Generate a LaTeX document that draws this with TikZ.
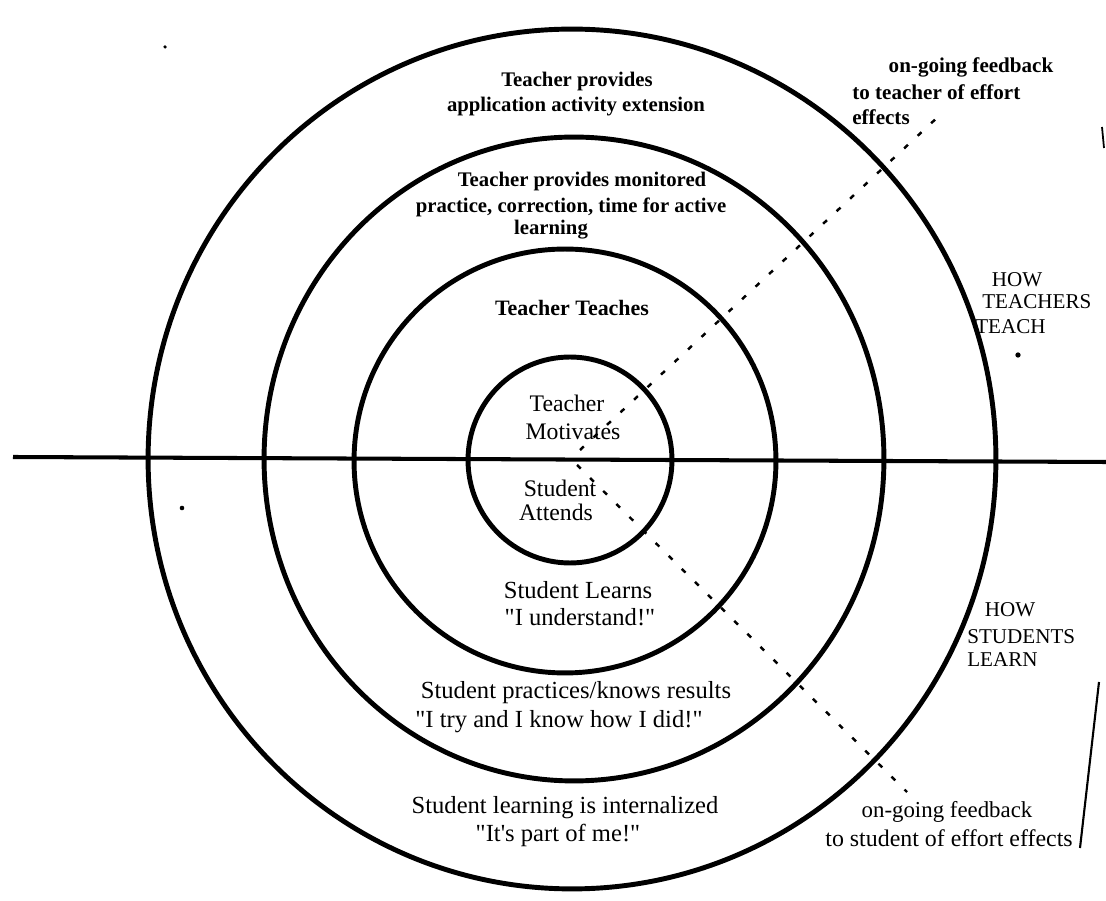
\documentclass[tikz,border=0pt]{standalone}
\usepackage{fontspec}
\setmainfont{Liberation Serif}[Ligatures=TeXOff]
\begin{document}
\begin{tikzpicture}[x=0.02cm,y=-0.02cm,
  ring/.style={line width=2.8pt},
  axis/.style={line width=2.3pt},
  feed/.style={line width=1.4pt, dash pattern=on 3pt off 7.5pt},
  tb/.style={inner sep=0pt, font=\bfseries\fontsize{11.8}{14}\selectfont},
  tr/.style={inner sep=0pt, font=\fontsize{13.5}{16}\selectfont},
  sr/.style={inner sep=0pt, font=\fontsize{14}{16}\selectfont},
  lab/.style={inner sep=0pt, font=\fontsize{12}{14}\selectfont},
  speck/.style={fill=black}]
\useasboundingbox (0,0) rectangle (1106,901);
% rings
\draw[ring] (572,459) ellipse [x radius=8.48cm, y radius=8.60cm];
\draw[ring] (574,459) ellipse [x radius=6.20cm, y radius=6.44cm];
\draw[ring] (565,461) ellipse [x radius=4.22cm, y radius=4.24cm];
\draw[ring] (570,460) ellipse [x radius=2.04cm, y radius=2.06cm];
% divider
\coordinate (hl) at (13,457);
\coordinate (hr) at (1106,462);
\draw[axis] (hl) -- (hr);
% feedback lines
\coordinate (fu0) at (580,450);
\coordinate (fu1) at (940,115);
\coordinate (fd0) at (577,465);
\coordinate (fd1) at (907,792);
\draw[feed] (fu0) -- (fu1);
\draw[feed] (fd0) -- (fd1);
% page edge marks
\coordinate (e0) at (1099,682);
\coordinate (e1) at (1080,848);
\draw[line width=1.2pt] (e0) -- (e1);
\coordinate (e2) at (1102,127);
\coordinate (e3) at (1104,148);
\draw[line width=1pt] (e2) -- (e3);
\fill[speck] (1018,355) circle (1.5pt);
\fill[speck] (182,508) circle (1.3pt);
\fill[speck] (165,47) circle (1pt);
% teacher texts
\node[tb] (t1a) at (577,82) {Teacher provides};
\node[tb] (t1b) at (576,107) {application activity extension};
\node[tb] (t2a) at (582,182) {Teacher provides monitored};
\node[tb] (t2b) at (571,207) {practice, correction, time for active};
\node[tb] (t2c) at (551,230) {learning};
\node[tb, font=\bfseries\fontsize{12.5}{14}\selectfont] (t3) at (572,308) {Teacher Teaches};
\node[tr] (t4a) at (567,403) {Teacher};
\node[tr] (t4b) at (573,432) {Motivates};
% student texts
\node[tr] (t5a) at (560,488) {Student};
\node[tr] (t5b) at (556,512) {Attends};
\node[sr] (t6a) at (578,590) {Student Learns};
\node[sr] (t6b) at (580,617) {"I understand!"};
\node[sr] (t7a) at (576,693) {Student practices/knows results};
\node[sr] (t7b) at (559,722) {"I try and I know how I did!"};
\node[sr] (t8a) at (565,808) {Student learning is internalized};
\node[sr] (t8b) at (558,835) {"It's part of me!"};
% side labels
\node[tb, font=\bfseries\fontsize{12}{14}\selectfont] (f1a) at (971,67) {on-going feedback};
\node[tb, font=\bfseries\fontsize{12}{14}\selectfont, anchor=west] (f1b) at (852,92) {to teacher of effort};
\node[tb, font=\bfseries\fontsize{12}{14}\selectfont, anchor=west] (f1c) at (852,117) {effects};
\node[lab] (h1a) at (1017,280) {HOW};
\node[lab, anchor=west] (h1b) at (982,302) {TEACHERS};
\node[lab, anchor=west] (h1c) at (975,327) {TEACH};
\node[lab] (h2a) at (1010,610) {HOW};
\node[lab, anchor=west] (h2b) at (967,637) {STUDENTS};
\node[lab, anchor=west] (h2c) at (967,660) {LEARN};
\node[sr, font=\fontsize{13}{15}\selectfont] (f2a) at (947,812) {on-going feedback};
\node[sr, font=\fontsize{13.6}{15}\selectfont, anchor=east] (f2b) at (1073,838) {to student of effort effects};
\end{tikzpicture}
\end{document}
